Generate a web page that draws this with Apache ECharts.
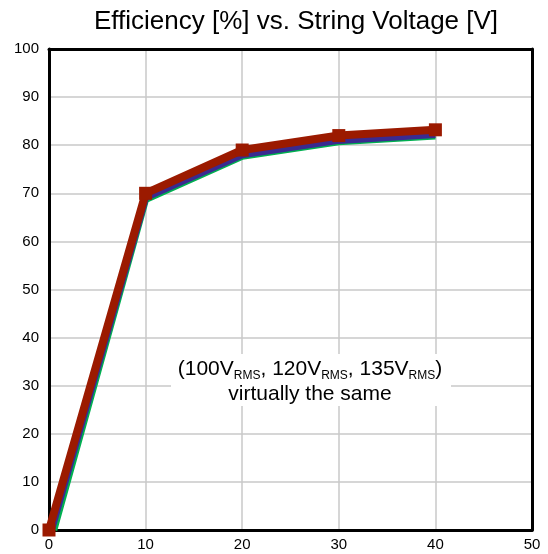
<!DOCTYPE html>
<html><head><meta charset="utf-8">
<script src="https://cdn.jsdelivr.net/npm/echarts@6/dist/echarts.min.js"></script>
<style>html,body{margin:0;padding:0;background:#fff}#c{width:548px;height:554px}</style>
</head><body><div id="c"></div>
<script>
const voltages = [0, 10, 20, 30, 40];
const eff100 = [0, 68.7, 77.7, 80.7, 81.9];
const eff120 = [0, 69.1, 78.0, 81.0, 82.2];
const eff135 = [0, 70.0, 79.0, 82.0, 83.2];
const xTicks = [0, 10, 20, 30, 40, 50];
const yTicks = [0, 10, 20, 30, 40, 50, 60, 70, 80, 90, 100];

const chart = echarts.init(document.getElementById('c'));
const font = 'Liberation Sans, Arial, sans-serif';
function pts(v, dx){ return voltages.map((x,i)=>[x + (i===0?dx:0), v[i]]); }
const frameLine = {show:true, onZero:false, lineStyle:{color:'#000', width:3}};
chart.setOption({
  animation:false,
  title:{text:'Efficiency [%] vs. String Voltage [V]', left:291, top:4, textAlign:'center',
    textStyle:{fontFamily:font, fontSize:26, fontWeight:'normal', color:'#000'}},
  grid:{left:49, right:16, top:49, bottom:24},
  xAxis:[{type:'value', min:xTicks[0], max:xTicks[xTicks.length-1], interval:10,
    axisLine:frameLine, axisTick:{show:false},
    splitLine:{show:true, lineStyle:{color:'#c8c8c8', width:1.5}},
    axisLabel:{color:'#000', fontFamily:font, fontSize:15, margin:7}},
    {type:'value', position:'top', min:0, max:50, interval:10, axisLine:frameLine,
     axisTick:{show:false}, axisLabel:{show:false}, splitLine:{show:false}}],
  yAxis:[{type:'value', min:yTicks[0], max:yTicks[yTicks.length-1], interval:10,
    axisLine:frameLine, axisTick:{show:false},
    splitLine:{show:true, lineStyle:{color:'#c8c8c8', width:1.5}},
    axisLabel:{color:'#000', fontFamily:font, fontSize:15, margin:10}},
    {type:'value', position:'right', min:0, max:100, interval:10, axisLine:frameLine,
     axisTick:{show:false}, axisLabel:{show:false}, splitLine:{show:false}}],
  graphic:[{type:'rect', left:171, top:354, shape:{width:280, height:52}, style:{fill:'#fff'}, z:5},
    {type:'text', x:310, y:357, z:6, style:{
      text:'(100V{s|RMS}, 120V{s|RMS}, 135V{s|RMS})\nvirtually the same',
      fontFamily:font, fontSize:21, fill:'#000', align:'center', verticalAlign:'top', lineHeight:25,
      rich:{s:{fontSize:12, fontFamily:font, fill:'#000', padding:[11,0,0,0], verticalAlign:'bottom'}}}}],
  series:[
    {type:'line', data:pts(eff100, 0.5), symbol:'none', lineStyle:{color:'#00b050', width:7}, z:2},
    {type:'line', data:pts(eff120, 0.25), symbol:'none', lineStyle:{color:'#3a2a90', width:7}, z:3},
    {type:'line', data:pts(eff135, 0), symbol:'rect', symbolSize:13, itemStyle:{color:'#9b1a00'},
      lineStyle:{color:'#9b1a00', width:8}, z:4}
  ]
});
</script></body></html>
